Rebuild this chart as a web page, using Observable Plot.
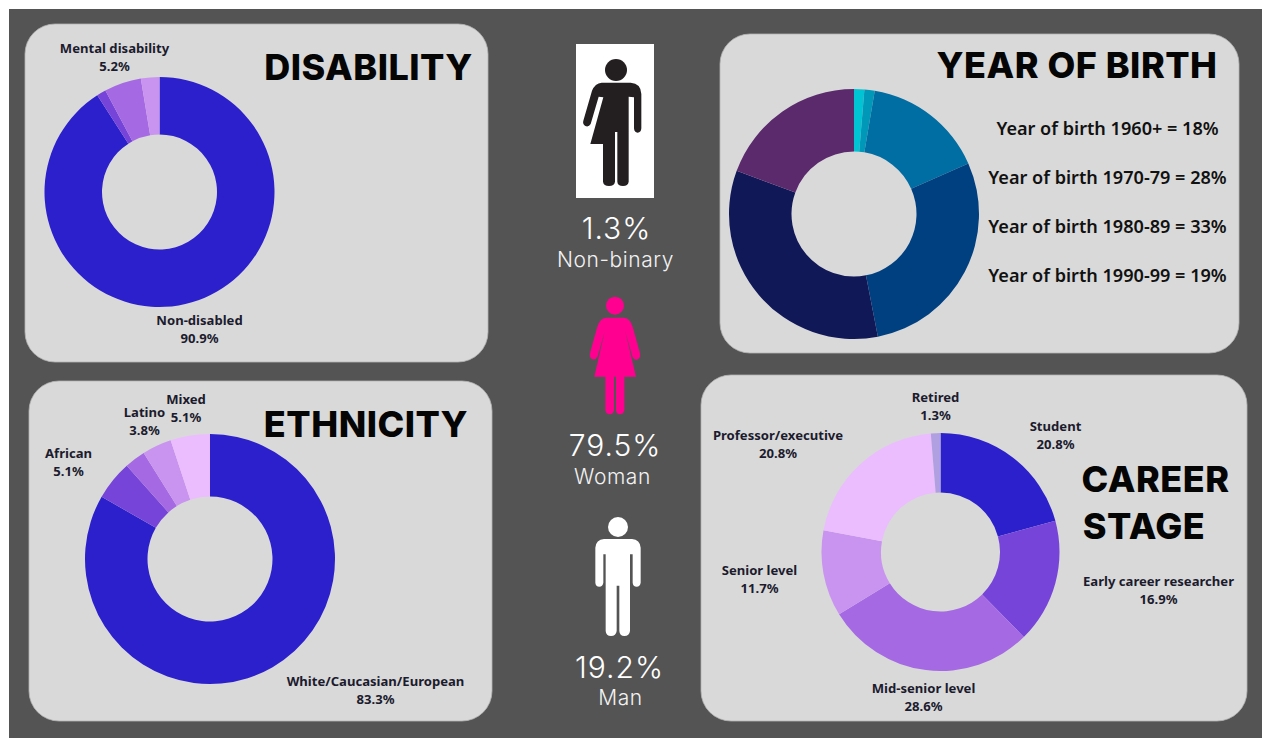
<!DOCTYPE html>
<html>
<head>
<meta charset="utf-8">
<script src="https://cdn.jsdelivr.net/npm/d3@7"></script>
<script src="https://cdn.jsdelivr.net/npm/@observablehq/plot@0.6"></script>
<style>
  html, body { margin: 0; padding: 0; background: #fff; }
  svg { display: block; }
  .heading { letter-spacing: 0.5px; }
  .gender-percent { letter-spacing: 1px; }
  .gender-name { letter-spacing: 0.6px; }
</style>
</head>
<body>
<div id="chart"></div>
<script>
// Survey demographics: share of respondents per category, in percent.
const disabilityNames = ["Non-disabled", null, "Mental disability", null];
const disabilityValues = [90.9, 1.3, 5.2, 2.6];

const ethnicityNames = ["White/Caucasian/European", "African", null, "Latino", "Mixed"];
const ethnicityValues = [83.3, 5.1, 2.7, 3.8, 5.1];

const careerNames = ["Student", "Early career researcher", "Mid-senior level", "Senior level", "Professor/executive", "Retired"];
const careerValues = [20.8, 16.9, 28.6, 11.7, 20.8, 1.3];

// The 1960+ group splits into three slices that add up to its 18%.
const birthValues = [1.3, 1.3, 15.4, 28, 33, 19];
const birthLegendNames = ["Year of birth 1960+", "Year of birth 1970-79", "Year of birth 1980-89", "Year of birth 1990-99"];
const birthLegendValues = [18, 28, 33, 19];

const genderNames = ["Non-binary", "Woman", "Man"];
const genderValues = [1.3, 79.5, 19.2];

// Palettes, clockwise from twelve o'clock.
const violet = ["#2b20cb", "#7644d8", "#a569e3", "#c994ef", "#ebbdff"];
const disabilityColors = ["#2b20cb", "#7644d8", "#a569e3", "#c994ef"];
const careerColors = [...violet, "#b0a0e2"];
const birthColors = ["#00c4d4", "#0098b9", "#006da3", "#004080", "#101857", "#5a2a6c"];

const INK = "#1c1b2e";
const SANS = "'Noto Sans', 'Open Sans', sans-serif";
const TITLE = "Inter, Lato, sans-serif";
const LIGHT = "Inter, Lato, sans-serif";

// Rounded grey cards.
const cards = [
  {x1: 25, x2: 488, y1: 24, y2: 362},
  {x1: 29, x2: 492, y1: 381, y2: 721},
  {x1: 720, x2: 1239, y1: 34, y2: 353},
  {x1: 701, x2: 1247, y1: 375, y2: 721}
];

// Ring slices computed from the values, starting at the top and going clockwise.
function donut(values, colors, cx, cy, outer) {
  const arcs = d3.pie().sort(null)(values);
  const arc = d3.arc().innerRadius(outer / 2).outerRadius(outer);
  return (index, {x, y}) => {
    const g = d3.create("svg:g").attr("transform", `translate(${x(cx)},${y(cy)})`);
    g.selectAll("path").data(arcs).join("path")
      .attr("d", arc)
      .attr("fill", (d, i) => colors[i]);
    return g.node();
  };
}

// Pictogram made of a head and a body outline, drawn in a 3x unit box.
function figure(ox, oy, head, body, fill) {
  return (index, {x, y}) => {
    const g = d3.create("svg:g")
      .attr("transform", `translate(${x(ox)},${y(oy)}) scale(${1 / 3})`)
      .attr("fill", fill);
    g.append("circle").attr("cx", head[0]).attr("cy", head[1]).attr("r", head[2]);
    g.append("path").attr("d", body);
    return g.node();
  };
}

const nonBinaryBody = "M185 158 L272 158 Q303 160 304 192 L304 295 Q303 308 293 308 Q283 308 282 295 L282 202 L266 200 L266 455 Q264 468 249 468 Q233 468 232 455 L232 306 L225 306 L225 455 Q223 468 207 468 Q191 468 189 455 L189 342 L151 342 L190 202 L176 200 L152 282 Q146 292 136 288 Q127 282 130 272 L156 182 Q165 160 185 158 Z";
const womanBody = "M198 98 L252 98 Q270 100 278 125 L300 205 Q303 220 291 224 Q281 226 277 214 L256 140 L288 275 L253 275 L253 375 Q251 388 239 388 Q229 388 228 375 L228 275 L222 275 L222 375 Q220 388 209 388 Q198 388 196 375 L196 275 L163 275 L194 140 L173 214 Q168 226 158 223 Q147 219 150 205 L172 125 Q180 100 198 98 Z";
const manBody = "M192 102 L276 102 Q300 104 302 128 L302 233 Q300 245 290 245 Q279 245 278 233 L278 148 L270 148 L270 378 Q268 393 253 393 Q239 393 238 378 L238 242 L230 242 L230 378 Q228 393 213 393 Q198 393 197 378 L197 148 L190 148 L190 233 Q188 245 178 245 Q167 245 166 233 L166 128 Q168 104 192 102 Z";

// Two-line callouts: category name above its percentage.
function callouts(names, values, spots) {
  const rows = [];
  let k = 0;
  names.forEach((name, i) => {
    if (name === null) return;
    const [x, y] = spots[k++];
    rows.push({x, y, text: name});
    rows.push({x, y: y + 18.3, text: `${values[i]}%`});
  });
  return rows;
}
const labelRows = [
  ...callouts(disabilityNames, disabilityValues, [[199, 324.5], [114, 52.5]]),
  ...callouts(ethnicityNames, ethnicityValues, [[375, 685.5], [68, 457.5], [144, 416.5], [185.5, 403.5]]),
  ...callouts(careerNames, careerValues, [[1055, 430.5], [1158, 585.5], [923, 692.5], [759, 574.5], [777.5, 439.5], [935, 401.5]])
];

const legendBaselines = [134.5, 183.5, 232.5, 281.5];
const legendRows = birthLegendNames.map((name, i) => ({x: 1107, y: legendBaselines[i], text: `${name} = ${birthLegendValues[i]}%`}));

const titleRows = [
  {x: 368, y: 79, text: "DISABILITY"},
  {x: 365.5, y: 436, text: "ETHNICITY"},
  {x: 1076.5, y: 77, text: "YEAR OF BIRTH"},
  {x: 1155, y: 491, text: "CAREER"},
  {x: 1143.5, y: 538, text: "STAGE"}
];

const genderSpots = [
  {px: 616, py: 238, nx: 615, ny: 266},
  {px: 614.5, py: 455, nx: 612, ny: 483},
  {px: 619, py: 677, nx: 620, ny: 704}
];
const genderPercent = genderValues.map((v, i) => ({x: genderSpots[i].px, y: genderSpots[i].py, text: `${v}%`}));
const genderLabel = genderNames.map((n, i) => ({x: genderSpots[i].nx, y: genderSpots[i].ny, text: n}));

const textAt = (rows, opts) => Plot.text(rows, {x: "x", y: "y", text: "text", lineAnchor: "bottom", ...opts});

const chart = Plot.plot({
  width: 1262,
  height: 738,
  margin: 0,
  x: {domain: [0, 1262], range: [0, 1262], axis: null},
  y: {domain: [0, 738], range: [0, 738], axis: null},
  marks: [
    Plot.rect([{x1: 9, x2: 1262, y1: 9, y2: 738}], {x1: "x1", x2: "x2", y1: "y1", y2: "y2", fill: "#545454"}),
    Plot.rect(cards, {x1: "x1", x2: "x2", y1: "y1", y2: "y2", fill: "#d9d9d9", stroke: "#b4b4b4", strokeWidth: 0.8, rx: 30}),

    donut(disabilityValues, disabilityColors, 159.5, 192, 115),
    donut(ethnicityValues, violet, 210, 559, 125),
    donut(birthValues, birthColors, 854, 214, 125),
    donut(careerValues, careerColors, 940.5, 552, 119),

    Plot.rect([{x1: 576, x2: 654, y1: 44, y2: 198}], {x1: "x1", x2: "x2", y1: "y1", y2: "y2", fill: "#ffffff"}),
    figure(540, 30, [228, 120, 33], nonBinaryBody, "#231f20"),
    figure(540, 285, [225, 62, 27], womanBody, "#ff0090"),
    figure(540, 505, [234, 66, 30], manBody, "#ffffff"),

    textAt(labelRows, {fontFamily: SANS, fontWeight: 700, fontSize: 13.1, fill: INK}),
    textAt(legendRows, {fontFamily: SANS, fontWeight: 600, fontSize: 18.1, fill: "#111111"}),
    textAt(titleRows, {fontFamily: TITLE, fontWeight: 800, fontSize: 36, fill: "#050505", className: "heading"}),
    textAt(genderPercent, {fontFamily: LIGHT, fontWeight: 300, fontSize: 30, fill: "#ffffff", className: "gender-percent"}),
    textAt(genderLabel, {fontFamily: LIGHT, fontWeight: 300, fontSize: 21, fill: "#f2f2f2", className: "gender-name"})
  ]
});
document.getElementById("chart").appendChild(chart);
</script>
</body>
</html>
